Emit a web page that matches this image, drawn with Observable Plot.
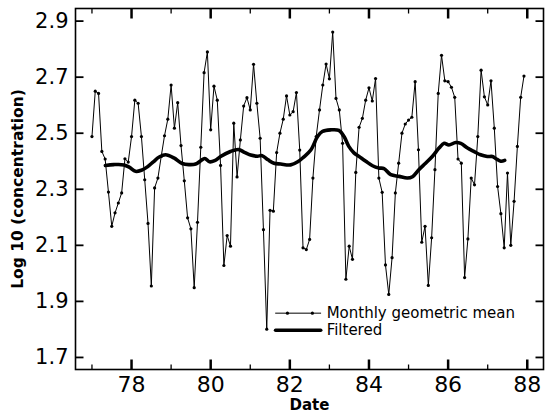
<!DOCTYPE html>
<html><head><meta charset="utf-8">
<script src="https://cdn.jsdelivr.net/npm/d3@7"></script>
<script src="https://cdn.jsdelivr.net/npm/@observablehq/plot@0.6"></script>
<style>body{margin:0;background:#fff;}</style>
</head><body><div id="chart"></div>
<script>
// Monthly geometric mean, starting January 1977 (year 77), one value per month
const startYear = 77;
const monthlyValues = [
  2.488, 2.650, 2.642, 2.435, 2.408, 2.290, 2.168, 2.216, 2.251, 2.287, 2.409, 2.397,
  2.488, 2.618, 2.607, 2.488, 2.334, 2.178, 1.955, 2.305, 2.340, 2.417, 2.491, 2.550,
  2.672, 2.518, 2.609, 2.456, 2.330, 2.198, 2.159, 1.949, 2.182, 2.450, 2.716, 2.790,
  2.512, 2.668, 2.618, 2.385, 2.028, 2.135, 2.097, 2.536, 2.344, 2.476, 2.597, 2.627,
  2.583, 2.746, 2.607, 2.482, 2.156, 1.801, 2.225, 2.222, 2.431, 2.500, 2.550, 2.633,
  2.565, 2.577, 2.645, 2.440, 2.091, 2.085, 2.121, 2.340, 2.488, 2.583, 2.672, 2.747,
  2.694, 2.861, 2.624, 2.583, 2.464, 1.979, 2.097, 2.050, 2.360, 2.521, 2.553, 2.618,
  2.662, 2.615, 2.695, 2.340, 2.289, 2.030, 1.925, 2.056, 2.287, 2.393, 2.500, 2.533,
  2.547, 2.557, 2.684, 2.441, 2.111, 2.168, 1.957, 2.127, 2.370, 2.642, 2.778, 2.687,
  2.684, 2.664, 2.628, 2.408, 2.393, 1.985, 2.123, 2.340, 2.316, 2.488, 2.725, 2.630,
  2.601, 2.687, 2.518, 2.310, 2.213, 2.091, 2.358, 2.100, 2.257, 2.453, 2.628, 2.704
];

// Filtered series
const filteredYears = [
  77.34, 77.55, 77.81, 77.95, 78.10, 78.25, 78.40, 78.55, 78.70, 78.86, 79.07, 79.28,
  79.45, 79.62, 79.75, 79.85, 79.97, 80.10, 80.25, 80.50, 80.70, 80.85, 81.01, 81.18,
  81.30, 81.45, 81.60, 81.77, 82.02, 82.20, 82.35, 82.53, 82.70, 82.82, 83.03, 83.24,
  83.37, 83.49, 83.62, 83.75, 83.92, 84.09, 84.25, 84.38, 84.55, 84.76, 84.97, 85.10,
  85.26, 85.43, 85.60, 85.77, 85.90, 86.02, 86.19, 86.32, 86.49, 86.65, 86.82, 86.99,
  87.12, 87.20, 87.33, 87.43
];
const filteredValues = [
  2.385, 2.388, 2.387, 2.378, 2.364, 2.368, 2.380, 2.398, 2.415, 2.423, 2.412, 2.392,
  2.388, 2.390, 2.402, 2.410, 2.398, 2.402, 2.417, 2.435, 2.442, 2.432, 2.422, 2.418,
  2.420, 2.405, 2.393, 2.390, 2.387, 2.398, 2.415, 2.440, 2.488, 2.506, 2.512, 2.510,
  2.488, 2.453, 2.430, 2.417, 2.400, 2.384, 2.376, 2.374, 2.352, 2.346, 2.340, 2.345,
  2.370, 2.393, 2.417, 2.447, 2.464, 2.458, 2.467, 2.464, 2.447, 2.435, 2.423, 2.417,
  2.417, 2.410, 2.400, 2.403
];

const yTicks = [1.7, 1.9, 2.1, 2.3, 2.5, 2.7, 2.9];
const yTickLabels = ["1.7", "1.9", "2.1", "2.3", "2.5", "2.7", "2.9"];
const xMajorTicks = [78, 80, 82, 84, 86, 88];
const xTickLabels = ["78", "80", "82", "84", "86", "88"];
const xMinorTicks = [77, 79, 81, 83, 85, 87];

const seriesNames = ["Monthly geometric mean", "Filtered"];
const xTitle = "Date";
const yTitle = "Log 10 (concentration)";

// build tables
const monthly = monthlyValues.map((v, i) => ({year: startYear + i / 12, value: v}));
const filtered = filteredYears.map((y, i) => ({year: y, value: filteredValues[i]}));

// legend placement (in chart units)
const legendX = [81.64, 82.78];
const legendDotX = [81.94, 82.57];
const legendTextX = 82.93;
const legendY = [1.858, 1.797];
const legMonthly = legendX.map(x => ({year: x, value: legendY[0]}));
const legMonthlyDots = legendDotX.map(x => ({year: x, value: legendY[0]}));
const legFiltered = legendX.map(x => ({year: x, value: legendY[1]}));
const legText = seriesNames.map((t, i) => ({year: legendTextX, value: legendY[i], t}));

const fmtX = d => xTickLabels[xMajorTicks.indexOf(d)];
const fmtY = d => yTickLabels[yTicks.indexOf(d)];

const W = 553, H = 417, mL = 75, mR = 10, mT = 8, mB = 48;
const xLo = 76.584, xHi = 88.41, yLo = 1.657, yHi = 2.945;
const pxPerY = (H - mT - mB) / (yHi - yLo);
const pxPerX = (W - mL - mR) / (xHi - xLo);
// tick lengths converted from pixels to scale units
const majorLen = 10 / pxPerY, minorLen = 5 / pxPerY, yTickLen = 8 / pxPerX;

// tick segments as two-point paths (one group per tick)
function xTickSegs(ticks, len, tag) {
  const out = [];
  ticks.forEach((t, i) => {
    out.push({year: t, value: yLo, g: tag + "b" + i}, {year: t, value: yLo + len, g: tag + "b" + i});
    out.push({year: t, value: yHi, g: tag + "t" + i}, {year: t, value: yHi - len, g: tag + "t" + i});
  });
  return out;
}
function yTickSegs(ticks, len) {
  const out = [];
  ticks.forEach((t, i) => {
    out.push({year: xLo, value: t, g: "l" + i}, {year: xLo + len, value: t, g: "l" + i});
    out.push({year: xHi, value: t, g: "r" + i}, {year: xHi - len, value: t, g: "r" + i});
  });
  return out;
}
const majorSegs = xTickSegs(xMajorTicks, majorLen, "M");
const minorSegs = xTickSegs(xMinorTicks, minorLen, "m");
const ySegs = yTickSegs(yTicks, yTickLen);

const chart = Plot.plot({
  width: W,
  height: H,
  marginLeft: mL,
  marginRight: mR,
  marginTop: mT,
  marginBottom: mB,
  style: {fontFamily: "'DejaVu Sans', sans-serif", background: "#fff", color: "#000"},
  x: {domain: [xLo, xHi], label: null, axis: null},
  y: {domain: [yLo, yHi], label: null, axis: null},
  marks: [
    Plot.frame({stroke: "#000", fill: "none", strokeWidth: 1.6}),
    // inward tick marks
    Plot.line(majorSegs, {x: "year", y: "value", z: "g", stroke: "#000", strokeWidth: 2.5, strokeLinecap: "butt"}),
    Plot.line(minorSegs, {x: "year", y: "value", z: "g", stroke: "#000", strokeWidth: 1.3, strokeLinecap: "butt"}),
    Plot.line(ySegs, {x: "year", y: "value", z: "g", stroke: "#000", strokeWidth: 1.8, strokeLinecap: "butt"}),
    // tick labels
    Plot.text(xMajorTicks, {x: d => d, frameAnchor: "bottom", dy: 7, text: fmtX, textAnchor: "middle", lineAnchor: "top", fontSize: 22, fill: "#000"}),
    Plot.text(yTicks, {y: d => d, frameAnchor: "left", dx: -7, text: fmtY, textAnchor: "end", lineAnchor: "middle", fontSize: 21, fill: "#000"}),
    // data
    Plot.line(monthly, {x: "year", y: "value", stroke: "#000", strokeWidth: 1}),
    Plot.dot(monthly, {x: "year", y: "value", r: 1.6, fill: "#000", stroke: "none"}),
    Plot.line(filtered, {x: "year", y: "value", stroke: "#000", strokeWidth: 3.6, curve: "catmull-rom"}),
    // legend
    Plot.line(legMonthly, {x: "year", y: "value", stroke: "#000", strokeWidth: 1}),
    Plot.dot(legMonthlyDots, {x: "year", y: "value", r: 1.6, fill: "#000", stroke: "none"}),
    Plot.line(legFiltered, {x: "year", y: "value", stroke: "#000", strokeWidth: 3.6}),
    Plot.text(legText, {x: "year", y: "value", text: "t", textAnchor: "start", lineAnchor: "middle", fontSize: 15, fill: "#000"}),
    // titles
    Plot.text([xTitle], {frameAnchor: "bottom", dy: 36, textAnchor: "middle", lineAnchor: "middle", fontWeight: "bold", fontSize: 15, fill: "#000"}),
    Plot.text([yTitle], {frameAnchor: "left", dx: -57, rotate: -90, textAnchor: "middle", lineAnchor: "middle", fontWeight: "bold", fontSize: 15.5, fill: "#000"})
  ]
});
document.getElementById("chart").appendChild(chart);
</script>
</body></html>
